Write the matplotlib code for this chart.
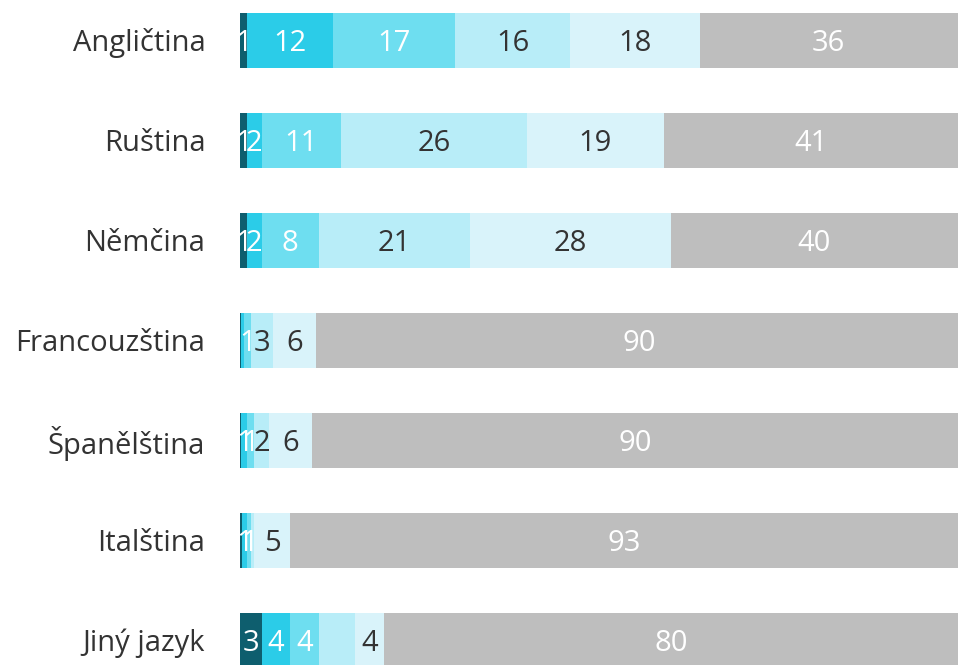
import matplotlib.pyplot as plt
import numpy as np

# jazyky a podíly odpovědí (v %), 6 kategorií na každý řádek
languages = ['Angličtina', 'Ruština', 'Němčina', 'Francouzština',
             'Španělština', 'Italština', 'Jiný jazyk']
seg1 = [1, 1, 1, 0.2, 0.2, 0.3, 3]
seg2 = [12, 2, 2, 0.4, 0.8, 0.7, 4]
seg3 = [17, 11, 8, 1, 1, 0.6, 4]
seg4 = [16, 26, 21, 3, 2, 0.4, 5]
seg5 = [18, 19, 28, 6, 6, 5, 4]
seg6 = [36, 41, 40, 90, 90, 93, 80]
# popisky (None = bez popisku)
lab4 = [16, 26, 21, 3, 2, None, None]

series = [seg1, seg2, seg3, seg4, seg5, seg6]
colors = ['#0e5e6e', '#2bcce8', '#6edef0', '#b8edf8', '#d9f3fa', '#bebebe']
text_colors = ['white', 'white', 'white', '#333333', '#333333', 'white']

plt.rcParams['font.family'] = ['Open Sans', 'DejaVu Sans']

fig = plt.figure(figsize=(9.58, 6.65), dpi=100)
ax = fig.add_axes([240 / 958, 0, 718 / 958, 1])

y = np.arange(len(languages))
left = np.zeros(len(languages))
for k, (vals, col, tcol) in enumerate(zip(series, colors, text_colors)):
    vals = np.array(vals, dtype=float)
    ax.barh(y, vals, left=left, height=0.55, color=col, linewidth=0)
    for i, v in enumerate(vals):
        if k == 3:
            lab = lab4[i]
        else:
            lab = int(round(v)) if round(v) >= 1 else None
        if lab is not None:
            ax.text(left[i] + v / 2, y[i], str(lab), ha='center',
                    va='center_baseline', fontsize=21, color=tcol)
    left += vals

ax.set_xlim(0, 100)
ax.set_ylim(6.25, -0.4)
ax.set_yticks(y)
ax.set_yticklabels(languages, fontsize=21, color='#333333')
ax.tick_params(axis='y', length=0, pad=25)
ax.set_xticks([])
for s in ax.spines.values():
    s.set_visible(False)

fig.savefig('out.png', dpi=100)
